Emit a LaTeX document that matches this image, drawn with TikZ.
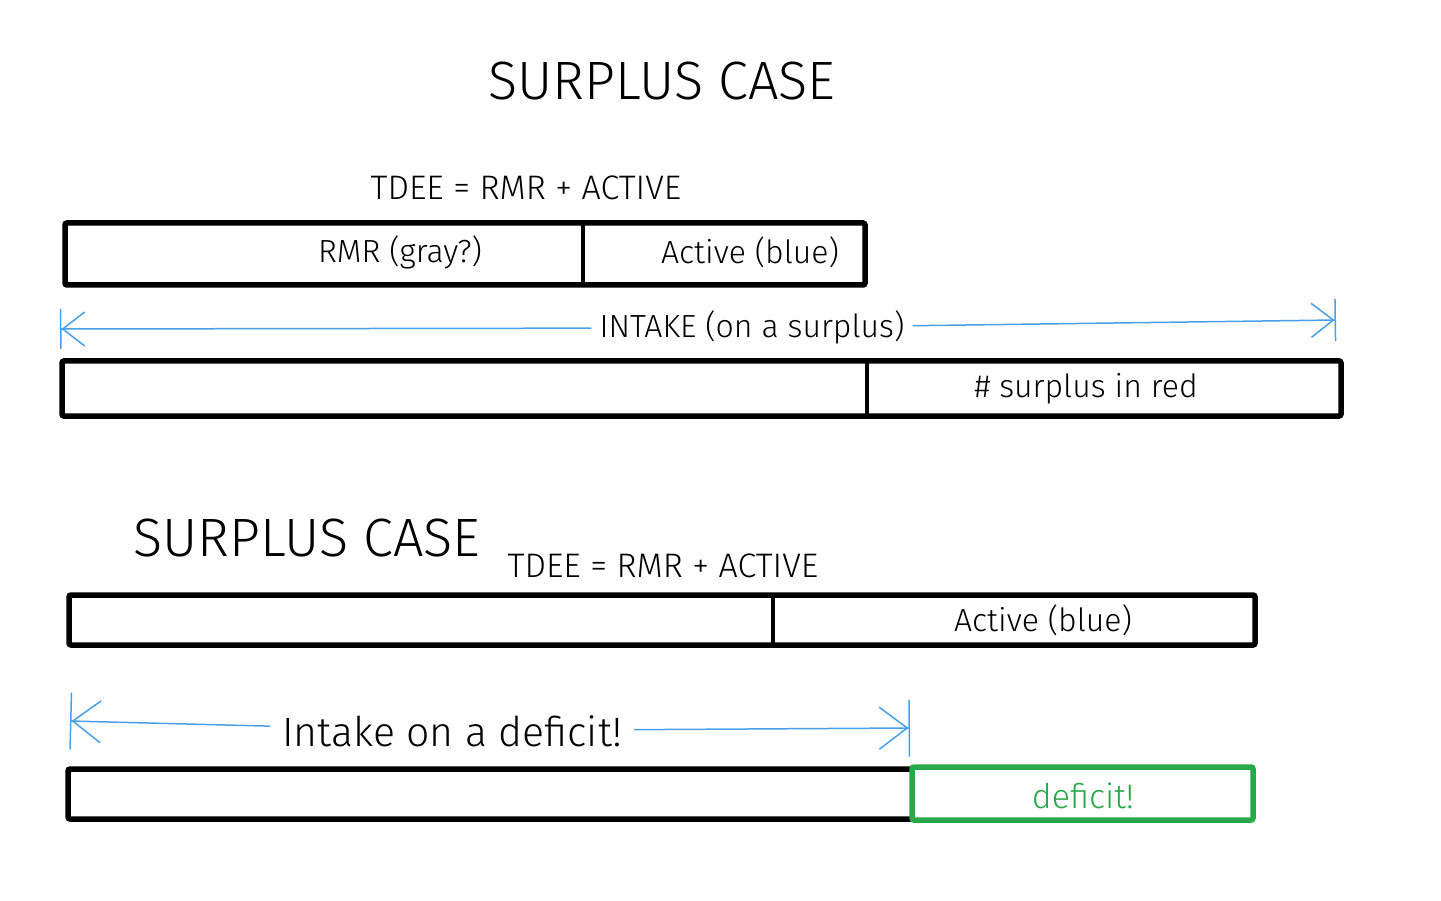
\documentclass[tikz,border=0pt]{standalone}
\usepackage{fontspec}
\setmainfont{Fira Sans Light}[BoldFont=Fira Sans]
\usepackage{tikz}
\usetikzlibrary{arrows.meta}
\definecolor{dimblue}{RGB}{74,160,230}
\definecolor{defgreen}{RGB}{40,168,72}

\begin{document}
\begin{tikzpicture}[x=1pt,y=-1pt,
	bar/.style={line width=5.5pt,rounded corners=2pt},
	sep/.style={line width=3.5pt},
	lbl/.style={anchor=base,inner sep=8pt,font=\fontsize{32}{36}\selectfont},
	dim/.style={dimblue,line width=1.5pt}]
	\useasboundingbox (0,0) rectangle (1441,901);

	% surplus case
	\node[lbl,font=\fontsize{54}{60}\selectfont] (title1) at (662,100) {SURPLUS CASE};
	\node[lbl,font=\fontsize{34}{40}\selectfont] (tdee1) at (526,200) {TDEE = RMR + ACTIVE};
	\draw[bar] (65,223) rectangle (865,285);
	\draw[sep] (583,223) -- (583,285);
	\node[lbl] (rmr1) at (400,263) {RMR (gray?)};
	\node[lbl] (act1) at (750,264) {Active (blue)};

	\coordinate (in1l) at (60,329);
	\coordinate (in1r) at (1336,320);
	\node[lbl] (intake1) at (752,338) {INTAKE (on a surplus)};
	\begin{scope}[dim]
		\draw[{Bar[width=40pt]Straight Barb[length=22pt,width=34pt]}-] (in1l) -- (intake1);
		\draw[-{Straight Barb[length=22pt,width=34pt]Bar[width=42pt]}] (intake1) -- (in1r);
	\end{scope}

	\draw[bar] (62,361) rectangle (1341,416);
	\draw[sep] (867,361) -- (867,416);
	\node[lbl] (surp1) at (1086,397) {\# surplus in red};

	% deficit case
	\node[lbl,font=\fontsize{54}{60}\selectfont] (title2) at (307,556) {SURPLUS CASE};
	\node[lbl,font=\fontsize{34}{40}\selectfont] (tdee2) at (663,577) {TDEE = RMR + ACTIVE};
	\draw[bar] (69,595) rectangle (1255,645);
	\draw[sep] (773,595) -- (773,645);
	\node[lbl] (act2) at (1043,631) {Active (blue)};

	\coordinate (in2l) at (70,721);
	\coordinate (in2r) at (910,728);
	\node[lbl,font=\fontsize{41}{46}\selectfont,inner sep=12pt] (intake2) at (452,746) {Intake on a deficit!};
	\begin{scope}[dim]
		\draw[{Bar[width=57pt]Straight Barb[length=28pt,width=42pt]}-] (in2l) -- (intake2);
		\draw[-{Straight Barb[length=28pt,width=42pt]Bar[width=57pt]}] (intake2) -- (in2r);
	\end{scope}

	\draw[bar] (912,769) -- (68,769) -- (68,819) -- (912,819);
	\draw[bar,defgreen] (912,767) rectangle (1253,820);
	\node[lbl,defgreen,font=\fontsize{34}{40}\selectfont] (def2) at (1083,808) {deficit!};
\end{tikzpicture}
\end{document}
